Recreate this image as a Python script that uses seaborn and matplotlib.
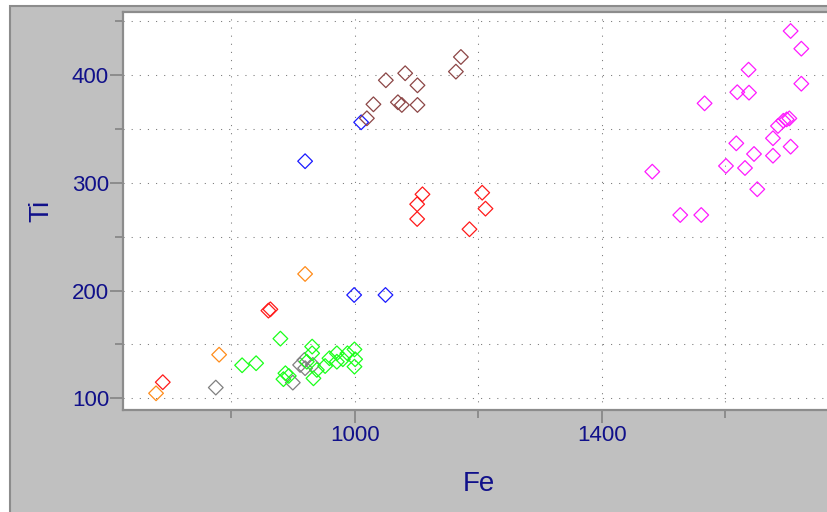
import numpy as np
import pandas as pd
import matplotlib
matplotlib.use("Agg")
import matplotlib.pyplot as plt
from matplotlib.patches import Rectangle
from matplotlib.ticker import FixedLocator, MultipleLocator
import seaborn as sns

# Fe / Ti values per group
orange_fe = [678.5, 780.6, 919.8]
orange_ti = [104.7, 140.5, 215.4]

red_fe = [689.4, 860.4, 863.6, 1109.8, 1101.2, 1101.2, 1185.9, 1206.5, 1211.8]
red_ti = [115.0, 181.4, 182.6, 289.3, 280.1, 266.4, 256.9, 290.8, 276.0]

gray_fe = [775.2, 899.9, 918.7, 919.8, 932.3, 911.7]
gray_ti = [110.0, 114.6, 135.6, 128.0, 131.0, 131.0]

green_fe = [879.8, 817.8, 840.5, 931.2, 931.2, 887.9, 884.7, 893.4, 933.3, 952.2,
            959.2, 971.2, 971.2, 980.9, 988.3, 999.7, 1000.8, 999.7, 938.8, 922.6]
green_ti = [155.4, 130.7, 132.6, 148.0, 141.8, 123.3, 117.8, 120.8, 118.6, 130.0,
            137.2, 141.8, 134.0, 136.3, 141.8, 145.4, 136.3, 129.4, 126.4, 134.0]

blue_fe = [919.8, 999.2, 1049.9, 1010.5]
blue_ti = [320.0, 195.9, 195.9, 356.1]

brown_fe = [1019.8, 1030.4, 1050.5, 1081.8, 1101.7, 1070.0, 1076.4, 1101.7, 1163.9, 1172.0]
brown_ti = [359.8, 372.8, 395.1, 401.6, 390.4, 374.7, 372.2, 372.2, 403.1, 416.7]

magenta_fe = [1705.8, 1723.1, 1637.7, 1723.1, 1619.4, 1638.4, 1566.5, 1685.3, 1694.0,
              1699.4, 1703.7, 1677.2, 1617.8, 1705.8, 1646.5, 1677.2, 1601.1, 1631.9,
              1481.8, 1651.8, 1527.1, 1561.1]
magenta_ti = [440.8, 424.4, 404.9, 391.9, 384.0, 383.6, 373.7, 352.7, 357.5,
              358.8, 359.7, 341.3, 336.6, 333.5, 326.7, 325.1, 315.6, 313.7,
              310.3, 294.0, 270.1, 270.1]

groups = [
    ("orange", orange_fe, orange_ti, "#ff8c1a"),
    ("red", red_fe, red_ti, "#ff1a1a"),
    ("gray", gray_fe, gray_ti, "#808080"),
    ("green", green_fe, green_ti, "#1aff1a"),
    ("blue", blue_fe, blue_ti, "#1a1aff"),
    ("brown", brown_fe, brown_ti, "#8c4646"),
    ("magenta", magenta_fe, magenta_ti, "#ff1aff"),
]

sns.set_style("ticks")
plt.rcParams["font.family"] = ["Liberation Sans", "DejaVu Sans"]

navy = "#10108a"
edge = "#8c8c8c"

fig = plt.figure(figsize=(8.27, 5.12), dpi=100)
fig.patch.set_facecolor("white")
# grey panel behind the plot
fig.patches.append(Rectangle((10 / 827, -0.1), 1.2, 1 - 6 / 512 + 0.1,
                             transform=fig.transFigure, facecolor="#c0c0c0",
                             edgecolor=edge, linewidth=1.5, zorder=-5))

ax = fig.add_axes([123 / 827, (512 - 410) / 512, (834 - 123) / 827, (410 - 11.7) / 512])
ax.set_zorder(2)
ax.set_facecolor("white")

for name, fe, ti, col in groups:
    df = pd.DataFrame({"Fe": fe, "Ti": ti})
    sns.scatterplot(data=df, x="Fe", y="Ti", ax=ax, marker="D", s=56,
                    color=col, facecolors="none", edgecolor=col, linewidth=0.9,
                    zorder=3)

ax.set_xlim(625, 1776)
ax.set_ylim(89.2, 458.7)

ax.xaxis.set_major_locator(FixedLocator([600, 1000, 1400, 1800]))
ax.xaxis.set_minor_locator(FixedLocator([800, 1200, 1600]))
ax.yaxis.set_major_locator(MultipleLocator(100))
ax.yaxis.set_minor_locator(MultipleLocator(50))

ax.grid(True, which="both", color="#808080", linewidth=0.75, linestyle=(0, (1.1, 6.7)))
ax.set_axisbelow(True)

ax.tick_params(which="major", length=9.5, width=1.4, color=edge, labelsize=16,
               labelcolor=navy)
ax.tick_params(which="minor", length=6, width=1.4, color=edge)
ax.tick_params(axis="y", pad=0.5)
ax.tick_params(axis="x", pad=1)

for side in ["left", "bottom", "top", "right"]:
    ax.spines[side].set_color(edge)
    ax.spines[side].set_linewidth(1.6)

ax.set_xlabel("Fe", fontsize=20, color=navy)
ax.set_ylabel("Ti", fontsize=20, color=navy)
ax.xaxis.set_label_coords(0.5, -0.153)
ax.yaxis.set_label_coords(-0.096, 0.5)

fig.savefig("out.png", dpi=100)
